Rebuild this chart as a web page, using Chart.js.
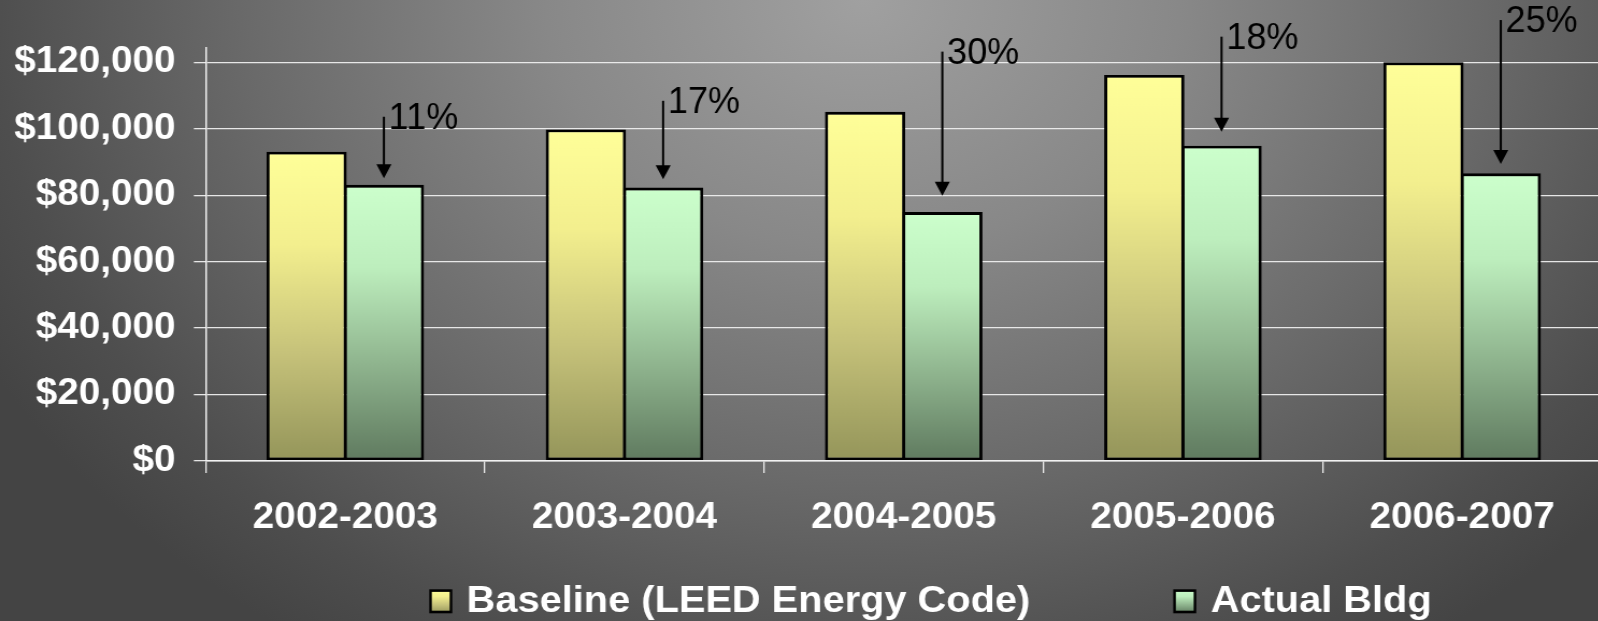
<!DOCTYPE html>
<html>
<head>
<meta charset="utf-8">
<title>Energy cost: baseline vs actual building</title>
<script src="https://cdn.jsdelivr.net/npm/chart.js@4/dist/chart.umd.min.js"></script>
<style>
  html, body { margin: 0; padding: 0; width: 1598px; height: 621px; overflow: hidden; }
  body {
    background: radial-gradient(ellipse 62% 125% at 54% 0%, #a0a0a0 0%, #888888 32%, #6a6a6a 62%, #4e4e4e 88%, #444444 100%);
  }
  /* the slide artwork is drawn slightly widened horizontally */
  #wrap { position: absolute; left: 0; top: 0; transform-origin: 0 0; transform: scaleX(1.075); }
  canvas { display: block; }
</style>
</head>
<body>
<div id="wrap"><canvas id="c" width="1492" height="621"></canvas></div>
<script>
// ---- data ----
const categories = ['2002-2003', '2003-2004', '2004-2005', '2005-2006', '2006-2007'];
const seriesNames = ['Baseline (LEED Energy Code)', 'Actual Bldg'];
const baselineCost = [93100, 99800, 105100, 116200, 120000];
const actualCost = [83100, 82300, 74900, 94900, 86600];
const savingsLabels = ['11%', '17%', '30%', '18%', '25%'];
// savings arrows run from these dollar levels down to just above the actual bars
const arrowFrom = [103600, 108400, 123200, 127700, 132700];
const arrowTo = [85100, 84800, 79800, 99100, 89400];
const yTicks = [0, 20000, 40000, 60000, 80000, 100000, 120000];
const yAxisMax = 124500;

// ---- look ----
const SX = 1.075;
const FONT = "'Liberation Sans', Arial, Helvetica, sans-serif";
const yellowStops = [[0, '#ffff99'], [0.3, '#f3ef8e'], [0.65, '#c6c27a'], [1, '#94955a']];
const greenStops = [[0, '#ccffcc'], [0.3, '#bdeebd'], [0.65, '#8fb48e'], [1, '#5f7a5f']];

Chart.defaults.font.family = FONT;

function barFill(stops) {
  return (ctx) => {
    const chart = ctx.chart;
    if (!chart.chartArea || ctx.type !== 'data') return stops[0][1];
    const y = chart.scales.y;
    const top = y.getPixelForValue(ctx.raw);
    const bottom = y.getPixelForValue(0);
    const g = chart.ctx.createLinearGradient(0, top, 0, bottom);
    stops.forEach(([o, c]) => g.addColorStop(o, c));
    return g;
  };
}

const savingsArrows = {
  id: 'savingsArrows',
  afterDraw(chart) {
    const ctx = chart.ctx;
    const y = chart.scales.y;
    const meta = chart.getDatasetMeta(1);
    ctx.save();
    meta.data.forEach((bar, i) => {
      const x = bar.x;
      const y0 = y.getPixelForValue(arrowFrom[i]);
      const y1 = y.getPixelForValue(arrowTo[i]);
      const head = 14;
      ctx.strokeStyle = '#000';
      ctx.fillStyle = '#000';
      ctx.lineWidth = 2;
      ctx.beginPath();
      ctx.moveTo(x, y0);
      ctx.lineTo(x, y1 - head + 1);
      ctx.stroke();
      ctx.beginPath();
      ctx.moveTo(x - 7, y1 - head);
      ctx.lineTo(x + 7, y1 - head);
      ctx.lineTo(x, y1);
      ctx.closePath();
      ctx.fill();
      ctx.save();
      ctx.translate(x + 4.5, y0 + 12);
      ctx.scale(1 / SX, 1);
      ctx.font = '36px ' + FONT;
      ctx.textAlign = 'left';
      ctx.textBaseline = 'alphabetic';
      ctx.fillText(savingsLabels[i], 0, 0);
      ctx.restore();
    });
    ctx.restore();
  }
};

const bottomLegend = {
  id: 'bottomLegend',
  afterDraw(chart) {
    const ctx = chart.ctx;
    const stops = [yellowStops, greenStops];
    const boxW = 21.4, boxH = 24, boxTop = 589.3, textGap = 34.8, itemGap = 133;
    const baseline = 611.7;
    let x = 399.3;
    ctx.save();
    ctx.font = 'bold 37px ' + FONT;
    chart.data.datasets.forEach((ds, i) => {
      const g = ctx.createLinearGradient(0, boxTop, 0, boxTop + boxH);
      stops[i].forEach(([o, c]) => g.addColorStop(o, c));
      ctx.fillStyle = '#000';
      ctx.fillRect(x, boxTop, boxW, boxH);
      ctx.fillStyle = g;
      ctx.fillRect(x + 2.4, boxTop + 2.6, boxW - 4.8, boxH - 5.2);
      ctx.fillStyle = '#ffffff';
      ctx.textAlign = 'left';
      ctx.textBaseline = 'alphabetic';
      ctx.fillText(ds.label, x + textGap, baseline);
      x += textGap + ctx.measureText(ds.label).width + itemGap;
    });
    ctx.restore();
  }
};

new Chart(document.getElementById('c'), {
  type: 'bar',
  data: {
    labels: categories,
    datasets: [
      {
        label: seriesNames[0],
        data: baselineCost,
        backgroundColor: barFill(yellowStops),
        borderColor: '#000',
        borderWidth: 2.9,
        borderSkipped: false
      },
      {
        label: seriesNames[1],
        data: actualCost,
        backgroundColor: barFill(greenStops),
        borderColor: '#000',
        borderWidth: 2.9,
        borderSkipped: false
      }
    ]
  },
  options: {
    responsive: false,
    animation: false,
    devicePixelRatio: 1,
    categoryPercentage: 0.5535,
    barPercentage: 1.039,
    layout: { padding: { top: 47.3, right: 2, left: 0, bottom: 0 } },
    plugins: {
      legend: { display: false },
      tooltip: { enabled: false }
    },
    scales: {
      x: {
        afterFit: (s) => { s.height = 160; },
        ticks: {
          color: '#ffffff',
          font: { size: 36, weight: 'bold' },
          padding: 23,
          maxRotation: 0
        },
        grid: {
          drawOnChartArea: false,
          drawTicks: true,
          tickLength: 12,
          color: '#eeeeee',
          lineWidth: 1.3
        },
        border: { display: true, color: '#f2f2f2', width: 1.6, z: 1 }
      },
      y: {
        min: 0,
        max: yAxisMax,
        afterBuildTicks: (s) => { s.ticks = yTicks.map(v => ({ value: v })); },
        afterFit: (s) => { s.width = 191.3; },
        ticks: {
          color: '#ffffff',
          font: { size: 36, weight: 'bold' },
          padding: 17,
          callback: (v) => '$' + Number(v).toLocaleString('en-US')
        },
        grid: {
          color: 'rgba(238,238,238,0.95)',
          lineWidth: 1.3,
          drawTicks: true,
          tickLength: 11
        },
        border: { display: true, color: '#f2f2f2', width: 1.5 }
      }
    }
  },
  plugins: [savingsArrows, bottomLegend]
});
</script>
</body>
</html>
